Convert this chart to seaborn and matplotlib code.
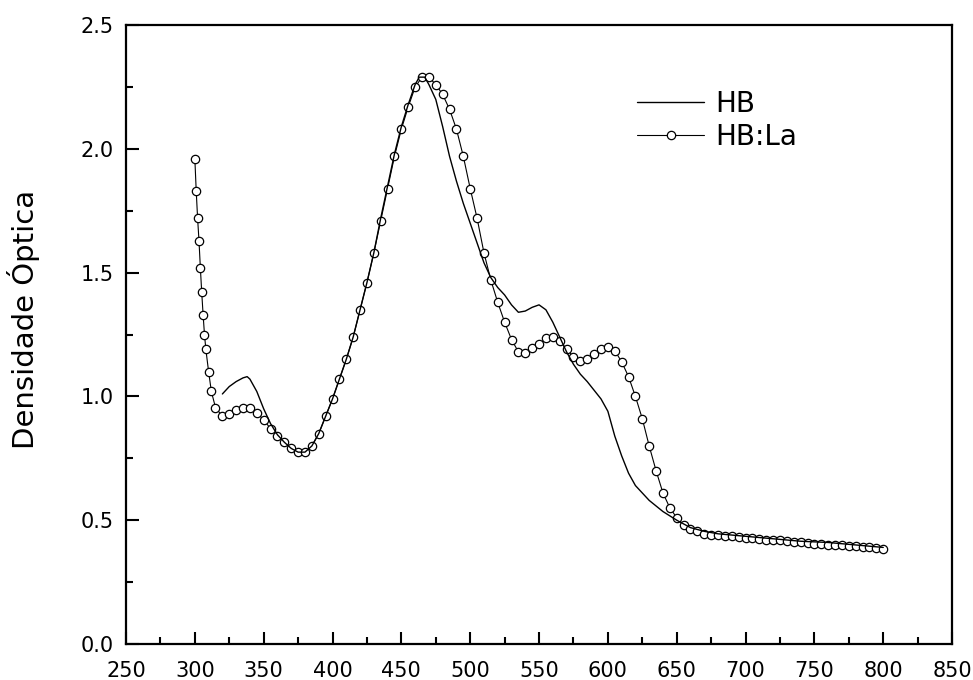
import matplotlib
matplotlib.use("Agg")
import matplotlib.pyplot as plt
import seaborn as sns
import pandas as pd
from matplotlib.ticker import MultipleLocator

# HB (solid line)
hb_x = [320, 325, 330, 335, 338, 340, 345, 350, 355, 360, 365, 370, 375, 380, 385,
        390, 395, 400, 405, 410, 415, 420, 425, 430, 435, 440, 445, 450, 455, 460,
        463, 467, 470, 475, 480, 485, 490, 495, 500, 505, 510, 515, 520, 525, 530,
        535, 540, 545, 550, 555, 560, 565, 570, 575, 580, 585, 590, 595, 600, 605,
        610, 615, 620, 630, 640, 650, 660, 670, 680, 700, 720, 740, 760, 780, 800]
hb_y = [1.01, 1.04, 1.06, 1.075, 1.08, 1.07, 1.02, 0.95, 0.89, 0.845, 0.815, 0.79, 0.775, 0.775, 0.80,
        0.85, 0.92, 0.99, 1.07, 1.15, 1.24, 1.35, 1.46, 1.58, 1.72, 1.85, 1.98, 2.09, 2.18, 2.26,
        2.29, 2.29, 2.26, 2.20, 2.09, 1.97, 1.87, 1.78, 1.70, 1.62, 1.54, 1.48, 1.44, 1.41, 1.37,
        1.34, 1.345, 1.36, 1.37, 1.35, 1.30, 1.24, 1.18, 1.13, 1.09, 1.06, 1.025, 0.99, 0.94, 0.84,
        0.76, 0.69, 0.64, 0.58, 0.535, 0.50, 0.47, 0.455, 0.445, 0.435, 0.425, 0.415, 0.41, 0.40, 0.39]

# HB:La (line with open circles)
hbla_x = [300, 301, 302, 303, 304, 305, 306, 307, 308, 310, 312, 315, 320, 325, 330,
          335, 340, 345, 350, 355, 360, 365, 370, 375, 380, 385, 390, 395, 400, 405,
          410, 415, 420, 425, 430, 435, 440, 445, 450, 455, 460, 465, 470, 475, 480,
          485, 490, 495, 500, 505, 510, 515, 520, 525, 530, 535, 540, 545, 550, 555,
          560, 565, 570, 575, 580, 585, 590, 595, 600, 605, 610, 615, 620, 625, 630,
          635, 640, 645, 650, 655, 660, 665, 670, 675, 680, 685, 690, 695, 700, 705,
          710, 715, 720, 725, 730, 735, 740, 745, 750, 755, 760, 765, 770, 775, 780,
          785, 790, 795, 800]
hbla_y = [1.96, 1.83, 1.72, 1.63, 1.52, 1.42, 1.33, 1.25, 1.19, 1.10, 1.02, 0.955, 0.92, 0.93, 0.945,
          0.955, 0.955, 0.935, 0.905, 0.87, 0.84, 0.815, 0.79, 0.775, 0.775, 0.80, 0.85, 0.92, 0.99, 1.07,
          1.15, 1.24, 1.35, 1.46, 1.58, 1.71, 1.84, 1.97, 2.08, 2.17, 2.25, 2.29, 2.29, 2.26, 2.22,
          2.16, 2.08, 1.97, 1.84, 1.72, 1.58, 1.47, 1.38, 1.30, 1.23, 1.18, 1.175, 1.195, 1.21, 1.235,
          1.24, 1.225, 1.19, 1.16, 1.145, 1.15, 1.17, 1.19, 1.20, 1.185, 1.14, 1.08, 1.00, 0.91, 0.80,
          0.70, 0.61, 0.55, 0.51, 0.48, 0.465, 0.455, 0.445, 0.44, 0.44, 0.437, 0.435, 0.432, 0.43, 0.428,
          0.425, 0.422, 0.42, 0.418, 0.415, 0.412, 0.41, 0.408, 0.405, 0.403, 0.40, 0.399, 0.398, 0.396, 0.395,
          0.392, 0.39, 0.388, 0.385]

x_ticks = [250, 300, 350, 400, 450, 500, 550, 600, 650, 700, 750, 800, 850]
y_ticks = [0.0, 0.5, 1.0, 1.5, 2.0, 2.5]
y_label = "Densidade Óptica"

sns.set_theme(style="ticks")
plt.rcParams['font.family'] = ['DejaVu Sans']
plt.rcParams['text.color'] = 'black'
plt.rcParams['axes.labelcolor'] = 'black'
plt.rcParams['xtick.color'] = 'black'
plt.rcParams['ytick.color'] = 'black'

df_hb = pd.DataFrame({"x": hb_x, "y": hb_y})
df_la = pd.DataFrame({"x": hbla_x, "y": hbla_y})

fig = plt.figure(figsize=(9.73, 6.8), dpi=100)
ax = fig.add_axes([0.1295, 0.053, 0.849, 0.910])

sns.lineplot(data=df_la, x="x", y="y", ax=ax, color="black", linewidth=0.8,
             marker="o", markersize=6, markerfacecolor="white",
             markeredgecolor="black", markeredgewidth=0.9, label="HB:La",
             sort=False)
sns.lineplot(data=df_hb, x="x", y="y", ax=ax, color="black", linewidth=1.0,
             label="HB", sort=False)

ax.set_xlim(250, 850)
ax.set_ylim(0, 2.5)
ax.set_xticks(x_ticks)
ax.set_yticks(y_ticks)
ax.set_xticklabels([str(v) for v in x_ticks])
ax.set_yticklabels([f"{v:.1f}" for v in y_ticks])
ax.xaxis.set_minor_locator(MultipleLocator(25))
ax.yaxis.set_minor_locator(MultipleLocator(0.25))
ax.tick_params(which="major", direction="in", length=9, width=1.5, labelsize=15,
               colors="black")
ax.tick_params(which="minor", direction="in", length=5, width=1.5)
ax.tick_params(axis="x", which="major", pad=12)
ax.tick_params(axis="y", which="major", pad=9)
for s in ax.spines.values():
    s.set_linewidth(1.6)
    s.set_color("black")
    s.set_visible(True)
ax.set_xlabel("")
ax.set_ylabel(y_label, fontsize=21)
ax.yaxis.set_label_coords(-0.104, 0.525)

h, l = ax.get_legend_handles_labels()
order = [l.index("HB"), l.index("HB:La")]
leg = ax.legend([h[i] for i in order], [l[i] for i in order], loc="upper left",
                bbox_to_anchor=(0.619, 0.896), frameon=False, fontsize=20,
                handlelength=2.4, handletextpad=0.4, labelspacing=0.2,
                borderpad=0, borderaxespad=0, numpoints=1)

fig.savefig("out.png", dpi=100)
